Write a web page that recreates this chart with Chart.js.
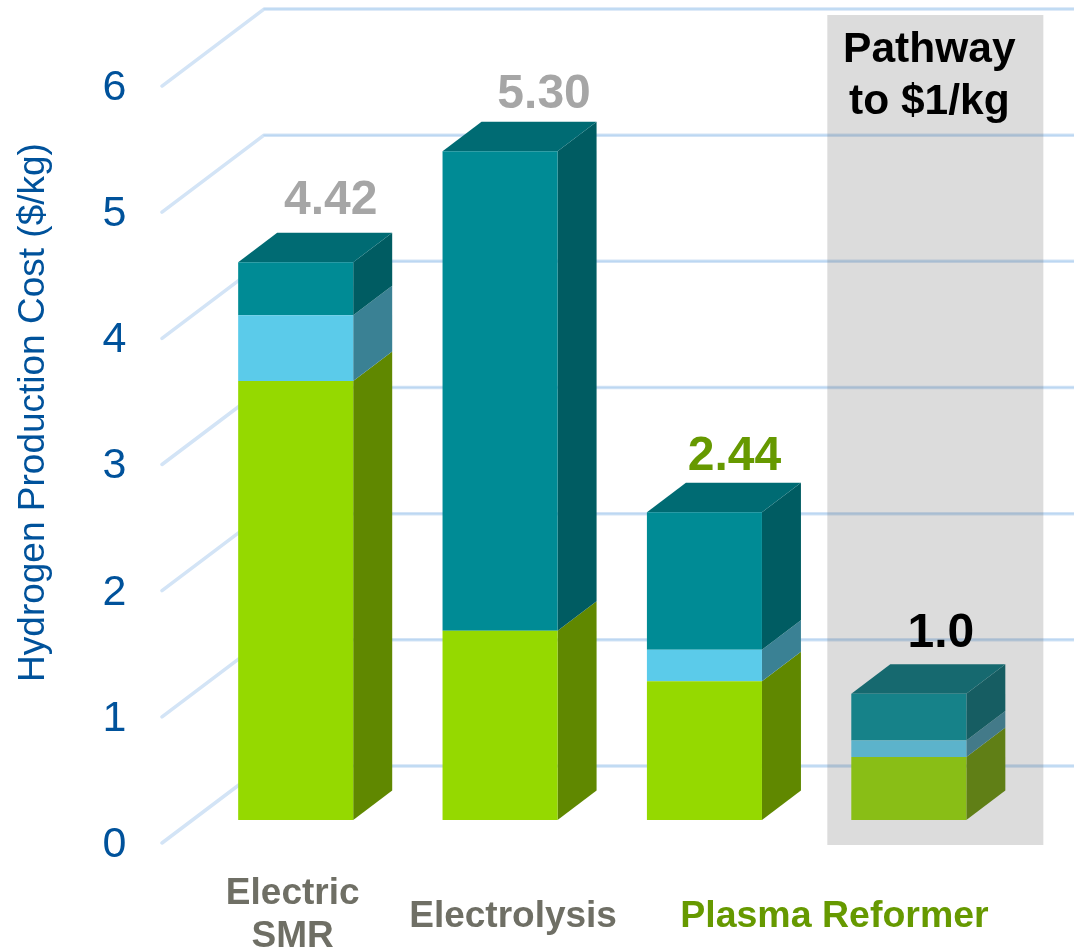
<!DOCTYPE html>
<html>
<head>
<meta charset="utf-8">
<title>Hydrogen Production Cost</title>
<script src="https://cdn.jsdelivr.net/npm/chart.js@4"></script>
<style>
  html, body { margin: 0; padding: 0; background: #fff; }
  canvas { display: block; }
</style>
</head>
<body>
<canvas id="costChart" width="1074" height="951"></canvas>
<script>
// Cost data, $/kg
const categories = ['Electric SMR', 'Electrolysis', 'Plasma Reformer', 'Pathway to $1/kg'];
const lowerCost = [3.48, 1.50, 1.10, 0.50];
const middleCost = [0.52, 0, 0.25, 0.13];
const upperCost = [0.42, 3.80, 1.09, 0.37];
const totalLabels = ['4.42', '5.30', '2.44', '1.0'];
const yTicks = [0, 1, 2, 3, 4, 5, 6];

const FONT = '"Liberation Sans", Arial, sans-serif';
const BLUE_TEXT = '#00529b';

// Extruded look of the bars and the floor/wall grid
const barDepth = { x: 39, y: -29.5 };
const wallDepth = { front: 23, back: -54, left: 162, corner: 264 };

const faces = [
    { front: '#95d900', side: '#608800' },
    { front: '#5bcbea', side: '#3a8194' },
    { front: '#008b95', side: '#005c62', top: '#006b73' }
];

function drawGrid(chart) {
    const { ctx, scales: { y } } = chart;
    ctx.save();
    ctx.lineJoin = 'round';
    ctx.lineCap = 'round';
    yTicks.forEach(v => {
        const py = y.getPixelForValue(v);
        ctx.beginPath();
        ctx.moveTo(wallDepth.left, py + wallDepth.front);
        ctx.lineTo(wallDepth.corner, py + wallDepth.back);
        ctx.lineTo(1074, py + wallDepth.back);
        ctx.strokeStyle = '#d3e4f6';
        ctx.lineWidth = 3.5;
        ctx.stroke();

        // darker core on the back wall
        ctx.beginPath();
        ctx.moveTo(wallDepth.corner, py + wallDepth.back);
        ctx.lineTo(1074, py + wallDepth.back);
        ctx.strokeStyle = '#bcd7f2';
        ctx.lineWidth = 1.5;
        ctx.stroke();
    });
    ctx.restore();
}

function polygon(ctx, points, color) {
    ctx.beginPath();
    points.forEach((p, i) => i ? ctx.lineTo(p[0], p[1]) : ctx.moveTo(p[0], p[1]));
    ctx.closePath();
    ctx.fillStyle = color;
    ctx.fill();
}

function drawBarSides(chart) {
    const { ctx } = chart;
    const dx = barDepth.x, dy = barDepth.y;
    chart.data.datasets.forEach((ds, i) => {
        chart.getDatasetMeta(i).data.forEach((bar, j) => {
            if (!ds.data[j]) return;
            const left = bar.x - bar.width / 2;
            const right = bar.x + bar.width / 2;
            polygon(ctx, [[right, bar.y], [right + dx, bar.y + dy], [right + dx, bar.base + dy], [right, bar.base]], faces[i].side);
            if (faces[i].top) {
                polygon(ctx, [[left, bar.y], [left + dx, bar.y + dy], [right + dx, bar.y + dy], [right, bar.y]], faces[i].top);
            }
        });
    });
}

function drawText(ctx, text, x, y, size, color) {
    ctx.font = 'bold ' + size + 'px ' + FONT;
    ctx.fillStyle = color;
    ctx.textAlign = 'center';
    ctx.textBaseline = 'alphabetic';
    ctx.fillText(text, x, y);
}

const extrudedBars = {
    id: 'extrudedBars',
    beforeDatasetsDraw(chart) {
        drawGrid(chart);
        drawBarSides(chart);
    },
    afterDatasetsDraw(chart) {
        const { ctx, scales: { x, y } } = chart;
        const last = x.getPixelForValue(3);

        // translucent panel behind the last column's caption, over the bar
        ctx.save();
        ctx.fillStyle = 'rgba(98, 98, 98, 0.224)';
        ctx.fillRect(last - 81.5, 15, 216, 830);
        ctx.restore();

        drawText(ctx, 'Pathway', last + 20.5, 62, 42.5, '#000');
        drawText(ctx, 'to $1/kg', last + 20.5, 114, 42.5, '#000');

        // totals above each stack
        const totalOffsets = [[35, -48], [44, -43], [30, -42], [32, -47]];
        const totalColors = ['#a6a6a6', '#a6a6a6', '#669900', '#000000'];
        totalLabels.forEach((label, i) => {
            const sum = lowerCost[i] + middleCost[i] + upperCost[i];
            drawText(ctx, label, x.getPixelForValue(i) + totalOffsets[i][0], y.getPixelForValue(sum) + totalOffsets[i][1], 48, totalColors[i]);
        });

        // category captions sit off-centre from their bars
        drawText(ctx, 'Electric', x.getPixelForValue(0) - 3, 904, 37, '#6f6f65');
        drawText(ctx, 'SMR', x.getPixelForValue(0) - 3, 947, 37, '#6f6f65');
        drawText(ctx, categories[1], x.getPixelForValue(1) + 13, 927, 37, '#6f6f65');
        drawText(ctx, categories[2], x.getPixelForValue(2) + 130, 927, 37.5, '#669900');
    }
};

new Chart(document.getElementById('costChart'), {
    type: 'bar',
    data: {
        labels: categories,
        datasets: [
            { label: 'Lower', data: lowerCost, backgroundColor: faces[0].front },
            { label: 'Middle', data: middleCost, backgroundColor: faces[1].front },
            { label: 'Upper', data: upperCost, backgroundColor: faces[2].front }
        ]
    },
    options: {
        responsive: false,
        animation: false,
        layout: { padding: { top: 5, right: 63, bottom: 131, left: 0 } },
        plugins: { legend: { display: false }, tooltip: { enabled: false } },
        datasets: { bar: { barPercentage: 1, categoryPercentage: 115 / 204.3, borderWidth: 0 } },
        scales: {
            x: {
                stacked: true,
                display: false
            },
            y: {
                stacked: true,
                min: 0,
                max: 6.46,
                border: { display: false },
                grid: { display: false },
                afterBuildTicks(scale) {
                    scale.ticks = yTicks.map(value => ({ value }));
                },
                afterFit(scale) {
                    // tick labels are shifted down, so no extra room above or below the plot
                    scale.width = 193.5;
                    scale.paddingTop = 0;
                    scale.paddingBottom = 0;
                },
                ticks: {
                    padding: 59,
                    labelOffset: 25,
                    color: BLUE_TEXT,
                    font: { family: FONT, size: 43 }
                },
                title: {
                    display: true,
                    text: 'Hydrogen Production Cost ($/kg)',
                    color: BLUE_TEXT,
                    font: { family: FONT, size: 37 },
                    padding: { top: 12, bottom: 0 }
                }
            }
        }
    },
    plugins: [extrudedBars]
});
</script>
</body>
</html>
